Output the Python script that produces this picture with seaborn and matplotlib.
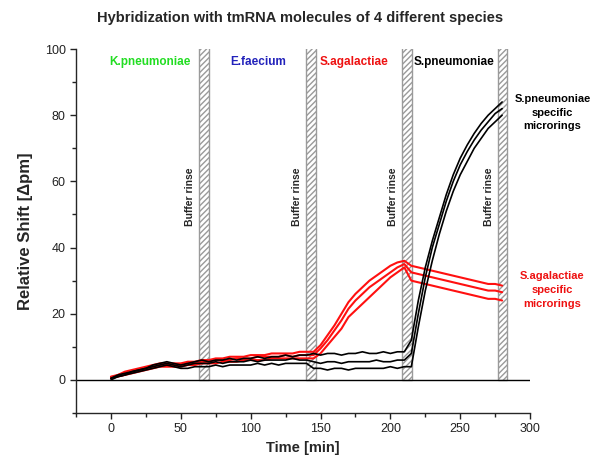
import numpy as np
import pandas as pd
import seaborn as sns
import matplotlib
matplotlib.use('Agg')
import matplotlib.pyplot as plt
from matplotlib.ticker import MultipleLocator

# time axis (min)
time = [0, 5, 10, 15, 20, 25, 30, 35, 40, 45, 50, 55, 60, 65, 70, 75, 80, 85, 90, 95,
        100, 105, 110, 115, 120, 125, 130, 135, 140, 145, 150, 155, 160, 165, 170, 175,
        180, 185, 190, 195, 200, 205, 210, 215, 220, 225, 230, 235, 240, 245, 250, 255,
        260, 265, 270, 275, 280]

# S.pneumoniae specific microrings (black)
black_1 = [0.5, 1.5, 2, 2.5, 3, 3.5, 4.5, 5, 5.5, 5, 4.5, 5, 5.5, 6, 5.5, 6, 6, 6.5, 6, 6.5,
           6.5, 7, 6.5, 7, 7, 7.5, 7, 7.5, 7.5,
           8, 7.5, 8, 8, 7.5, 8, 8, 8.5, 8, 8, 8.5, 8, 8.5, 8.5,
           12, 24, 34, 42, 49, 56, 62, 67, 71, 74.5, 77.5, 80, 82, 84]
black_2 = [0.5, 1, 1.5, 2.5, 3, 3.5, 4, 4.5, 5, 4.5, 4, 4.5, 5, 5, 5, 5.5, 5, 5.5, 5.5, 5.5,
           6, 5.5, 6, 6, 6, 6, 6.5, 6, 6,
           5.5, 5, 5.5, 5.5, 5, 5.5, 5.5, 5.5, 5.5, 6, 5.5, 5.5, 6, 6,
           8, 20, 31, 40, 47, 54, 60, 65, 69, 72.5, 75.5, 78, 80.5, 82]
black_3 = [0, 1, 1.5, 2, 2.5, 3, 3.5, 4, 4.5, 4, 3.5, 3.5, 4, 4, 4, 4.5, 4, 4.5, 4.5, 4.5,
           4.5, 5, 4.5, 5, 4.5, 5, 5, 5, 5,
           3.5, 3.5, 3, 3.5, 3.5, 3, 3.5, 3.5, 3.5, 3.5, 3.5, 4, 3.5, 4,
           4, 16, 27, 36, 44, 51, 57, 62, 66, 70, 73, 76, 78, 80]

# S.agalactiae specific microrings (red)
red_1 = [1, 1.5, 2.5, 3, 3.5, 4, 4.5, 5, 5, 5, 5, 5.5, 5.5, 6, 6, 6.5, 6.5, 7, 7, 7,
         7.5, 7.5, 7.5, 8, 8, 8, 8, 8.5, 8.5,
         8.5, 10.5, 13.5, 16.5, 20, 23.5, 26, 28, 30, 31.5, 33, 34.5, 35.5, 36,
         34.5, 34, 33.5, 33, 32.5, 32, 31.5, 31, 30.5, 30, 29.5, 29, 29, 28.5]
red_2 = [0.5, 1.5, 2, 2.5, 3, 3.5, 4, 4.5, 4.5, 4.5, 4.5, 5, 5, 5.5, 5.5, 6, 6, 6, 6.5, 6.5,
         6.5, 7, 7, 7, 7, 7.5, 7, 7.5, 7.5,
         7.5, 9.5, 12, 15, 18, 21.5, 24, 26, 28, 29.5, 31, 32.5, 34, 35,
         32.5, 32, 31.5, 31, 30.5, 30, 29.5, 29, 28.5, 28, 27.5, 27, 27, 26.5]
red_3 = [0.5, 1, 1.5, 2, 2.5, 3, 3.5, 4, 4, 4, 4, 4.5, 4.5, 5, 5, 5, 5.5, 5.5, 5.5, 6,
         6, 6, 6, 6.5, 6.5, 6.5, 6.5, 6.5, 6.5,
         6.5, 8, 10.5, 13, 15.5, 19, 21, 23, 25, 27, 29, 31, 32.5, 34,
         30, 29.5, 29, 28.5, 28, 27.5, 27, 26.5, 26, 25.5, 25, 24.5, 24.5, 24]

rinse_times = [66.7, 143.2, 212.0, 280.3]
species = ['K.pneumoniae', 'E.faecium', 'S.agalactiae', 'S.pneumoniae']
species_x = [28, 105.5, 174, 245.5]
species_colors = ['#22dd22', '#2222bb', '#ee1111', '#000000']

sns.set_style('ticks')
plt.rcParams['font.family'] = ['Liberation Sans', 'DejaVu Sans']

frames = []
for name, vals, grp in [('b1', black_1, 'black'), ('b2', black_2, 'black'), ('b3', black_3, 'black'),
                        ('r1', red_1, 'red'), ('r2', red_2, 'red'), ('r3', red_3, 'red')]:
    frames.append(pd.DataFrame({'time': time, 'shift': vals, 'curve': name, 'group': grp}))
df = pd.concat(frames, ignore_index=True)

fig = plt.figure(figsize=(6.01, 4.75), dpi=100)
ax = fig.add_axes([0.1265, 0.1305, 0.7555, 0.7663])

# buffer rinse bars
ax.bar(rinse_times, [102] * 4, width=7, bottom=0, color='white', edgecolor='#9a9a9a',
       hatch='//////', linewidth=1.0, zorder=1)
for xr in rinse_times:
    ax.text(xr - 10, 55.5, 'Buffer rinse', rotation=90, ha='center', va='center',
            fontsize=7.5, fontweight='bold')

ax.axhline(0, color='black', lw=1.0, zorder=2)

sns.lineplot(data=df[df.group == 'red'], x='time', y='shift', units='curve', estimator=None,
             color='#ff1010', lw=1.5, ax=ax, legend=False, zorder=3)
sns.lineplot(data=df[df.group == 'black'], x='time', y='shift', units='curve', estimator=None,
             color='black', lw=1.2, ax=ax, legend=False, zorder=4)

for name, xs, c in zip(species, species_x, species_colors):
    ax.text(xs, 96, name, ha='center', va='center', color=c, fontsize=8.5, fontweight='bold')

ax.text(316, 80.7, 'S.pneumoniae\nspecific\nmicrorings', ha='center', va='center',
        fontsize=8, fontweight='bold', color='black', linespacing=1.45, clip_on=False)
ax.text(316, 27.2, 'S.agalactiae\nspecific\nmicrorings', ha='center', va='center',
        fontsize=8, fontweight='bold', color='#ee1111', linespacing=1.45, clip_on=False)

ax.set_xlim(-25, 300)
ax.set_ylim(-10, 100)
ax.xaxis.set_major_locator(MultipleLocator(50))
ax.xaxis.set_minor_locator(MultipleLocator(25))
ax.yaxis.set_major_locator(MultipleLocator(20))
ax.yaxis.set_minor_locator(MultipleLocator(10))
ax.tick_params(which='both', direction='out', length=4, width=1, labelsize=9, colors='#222222')
ax.tick_params(which='minor', length=3)
sns.despine(ax=ax)
for s in ['left', 'bottom']:
    ax.spines[s].set_linewidth(1.0)

ax.set_xlabel('Time [min]', fontsize=10.5, fontweight='bold')
ax.set_ylabel('Relative Shift [Δpm]', fontsize=12, fontweight='bold', labelpad=8)
fig.text(0.5, 0.962, 'Hybridization with tmRNA molecules of 4 different species',
         ha='center', va='center', fontsize=10.5, fontweight='bold')

fig.savefig('out.png', dpi=100)
